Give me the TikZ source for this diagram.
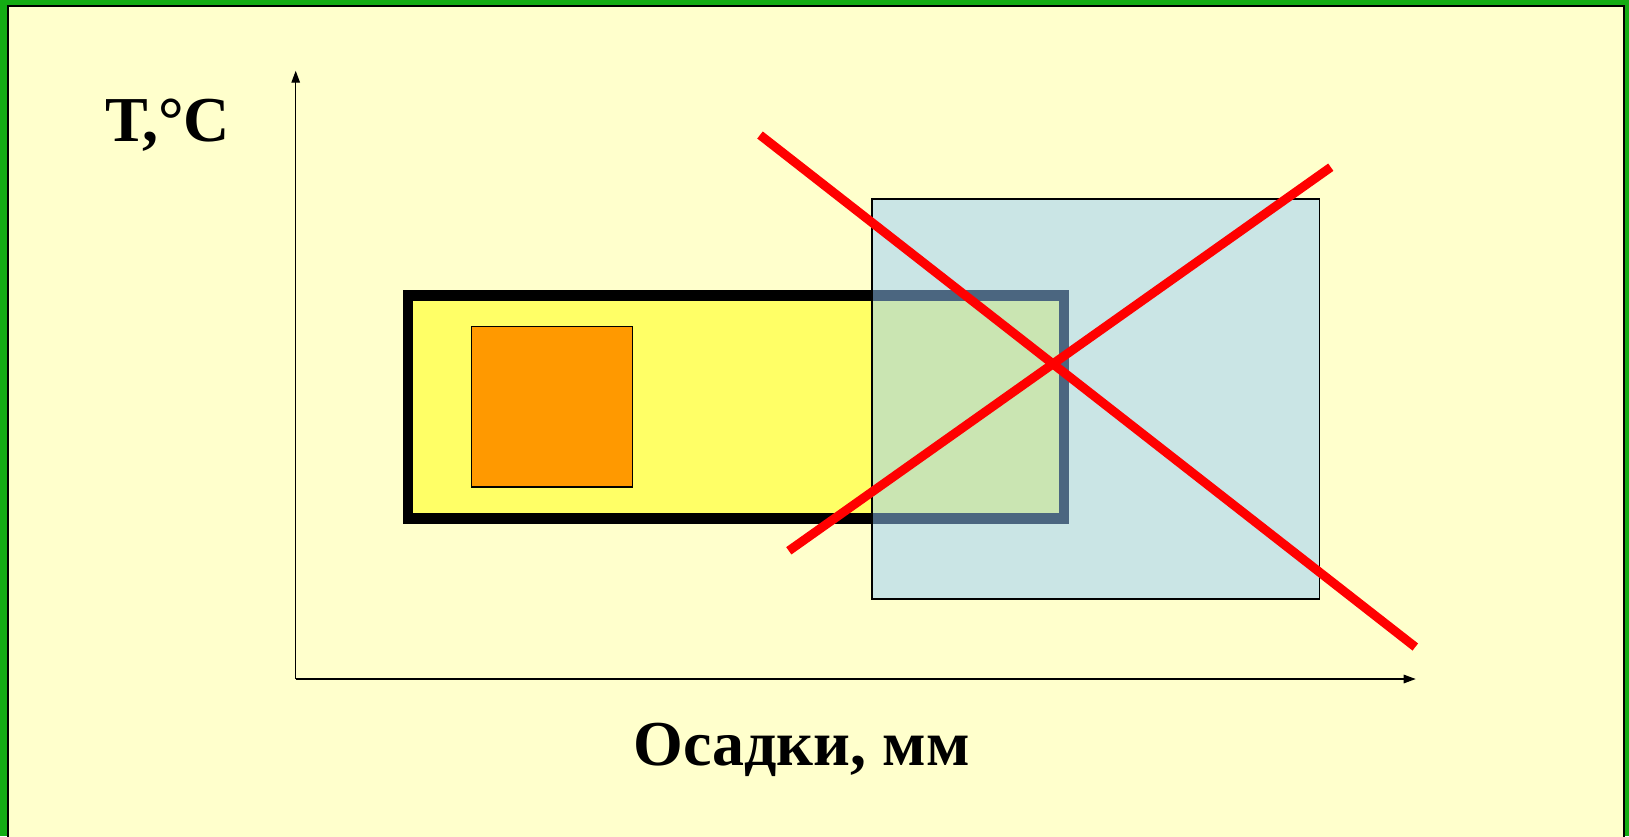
\documentclass[tikz,border=0pt]{standalone}
\usepackage{fontspec}
\setmainfont{Liberation Serif}
\usepackage{xcolor}
\usepackage{tikz}
\usetikzlibrary{arrows.meta}
\definecolor{FrameGreen}{HTML}{14AC14}
\definecolor{PaperCream}{HTML}{FFFFCC}
\definecolor{ZoneYellow}{HTML}{FFFF66}
\definecolor{ZoneOrange}{HTML}{FF9900}
\definecolor{ZoneBlue}{HTML}{96CCFF}
\definecolor{CrossRed}{HTML}{FF0000}

\begin{document}
\begin{tikzpicture}[x=1pt,y=-1pt,
        axisline/.style={line width=1.3pt,-{Triangle[length=12pt,width=8.5pt]}},
        axislabel/.style={font=\fontsize{64}{70}\selectfont\bfseries,inner sep=0pt,anchor=base},
        crossline/.style={draw=CrossRed,line width=9pt}]
        \useasboundingbox (0,0) rectangle (1629,836);
        % frame
        \fill[FrameGreen] (0,0) rectangle (1629,836);
        \filldraw[fill=PaperCream,draw=black,line width=2pt] (7.6,6) rectangle (1623.8,860);

        % axes
        \coordinate (origin) at (295.7,679);
        \coordinate (ytop) at (295.7,70.7);
        \coordinate (xend) at (1415.7,679);
        \draw[axisline] (origin) -- (ytop);
        \draw[axisline] (origin) -- (xend);
        \node[axislabel] (tlabel) at (168,141.7) {Т,°С};
        \node[axislabel] (plabel) at (801.7,765) {Осадки, мм};

        % zones
        \filldraw[fill=ZoneYellow,draw=black,line width=10.7pt] (408,295.3) rectangle (1064,518.7);
        \filldraw[fill=ZoneOrange,draw=black,line width=1.3pt] (471.7,326.7) rectangle (632.3,487);
        \fill[ZoneBlue,fill opacity=0.5] (871.7,199) rectangle (1319.3,598.7);
        \draw[line width=1.6pt] (871.7,199) rectangle (1319.3,598.7);

        % cross
        \coordinate (c1a) at (760,135);
        \coordinate (c1b) at (1415.3,647);
        \coordinate (c2a) at (788.8,550.8);
        \coordinate (c2b) at (1330.8,167.2);
        \draw[crossline] (c1a) -- (c1b);
        \draw[crossline] (c2a) -- (c2b);
\end{tikzpicture}
\end{document}
